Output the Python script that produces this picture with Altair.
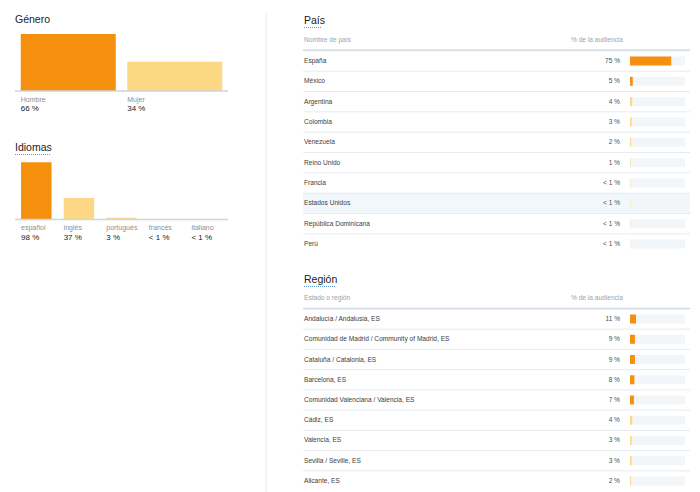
import altair as alt
import pandas as pd

# ---------------- data ----------------
panel_titles = ["Género", "Idiomas", "País", "Región"]
gender_cats = ["Hombre", "Mujer"]
gender_vals = [66, 34]
lang_cats = ["español", "inglés", "portugués", "francés", "italiano"]
lang_vals = [98, 37, 3, 0.4, 0.3]
country_header = ["Nombre de país", "% de la audiencia"]
country_names = ["España", "México", "Argentina", "Colombia", "Venezuela", "Reino Unido",
                 "Francia", "Estados Unidos", "República Dominicana", "Perú"]
country_vals = [75, 5, 4, 3, 2, 1, 0.7, 0.6, 0.5, 0.4]
region_header = ["Estado o región", "% de la audiencia"]
region_names = ["Andalucía / Andalusia, ES", "Comunidad de Madrid / Community of Madrid, ES",
                "Cataluña / Catalonia, ES", "Barcelona, ES", "Comunidad Valenciana / Valencia, ES",
                "Cádiz, ES", "Valencia, ES", "Sevilla / Seville, ES", "Alicante, ES"]
region_vals = [11, 9, 9, 8, 7, 4, 3, 3, 2]
highlighted_country = "Estados Unidos"

# ---------------- styles ----------------
ORANGE = "#f5900e"
PALE = "#fdd884"
FONT = "Liberation Sans"
LABEL_EXPR = "datum.v < 1 ? '< 1 %' : format(datum.v, 'd') + ' %'"


def title_block(title, x, y, underline_w):
    df = pd.DataFrame({"t": [title]})
    txt = alt.Chart(df).mark_text(align="left", baseline="alphabetic", fontSize=10.5,
                                  color="#202124", font=FONT).encode(
        text="t:N", x=alt.value(x), y=alt.value(y))
    layers = [txt]
    if underline_w:
        ul = alt.Chart(df).mark_rule(color="#5a9bd8", strokeDash=[1, 1], strokeWidth=1).encode(
            x=alt.value(x), x2=alt.value(x + underline_w), y=alt.value(y + 3.5))
        layers.append(ul)
    return alt.layer(*layers)


def column_chart(cats, vals, x_range, pi, po, y_range, label_y, value_y):
    df = pd.DataFrame({"c": cats, "v": vals})
    base = alt.Chart(df).transform_joinaggregate(vmax="max(v)").transform_calculate(label=LABEL_EXPR)
    xs = alt.Scale(domain=cats, range=x_range, paddingInner=pi, paddingOuter=po)
    ys = alt.Scale(range=y_range, nice=False, zero=True)
    bars = base.mark_bar().encode(
        x=alt.X("c:N", axis=None, scale=xs),
        y=alt.Y("v:Q", axis=None, scale=ys),
        color=alt.condition("datum.v == datum.vmax", alt.value(ORANGE), alt.value(PALE)),
    )
    baseline = alt.Chart(pd.DataFrame({"z": [0]})).mark_rule(color="#c9d6e3", strokeWidth=1.3).encode(
        x=alt.value(x_range[0]), x2=alt.value(x_range[1]),
        y=alt.Y("z:Q", axis=None, scale=ys))
    cat_text = base.mark_text(align="left", baseline="alphabetic", fontSize=7,
                              color="#8a9199", font=FONT).encode(
        x=alt.X("c:N", axis=None, scale=xs, bandPosition=0),
        y=alt.value(label_y), text="c:N")
    val_text = base.mark_text(align="left", baseline="alphabetic", fontSize=8,
                              color="#202124", font=FONT).encode(
        x=alt.X("c:N", axis=None, scale=xs, bandPosition=0),
        y=alt.value(value_y), text="label:N")
    return alt.layer(bars, baseline, cat_text, val_text)


def table(names, vals, header, band_range, header_y, line_y, hl=None):
    df = pd.DataFrame({"n": names, "v": vals})
    base = alt.Chart(df).transform_calculate(label=LABEL_EXPR)
    ys = alt.Scale(domain=names, range=band_range, paddingInner=0, paddingOuter=0)
    xs = alt.Scale(domain=[0, 100], range=[630, 685])
    layers = []
    if hl:
        layers.append(base.transform_filter(alt.datum.n == hl).mark_rect(color="#f2f7fc").encode(
            y=alt.Y("n:N", axis=None, scale=ys), x=alt.value(303), x2=alt.value(690)))
    layers.append(base.mark_rule(color="#e6ebf0", strokeWidth=1).encode(
        y=alt.Y("n:N", axis=None, scale=ys, bandPosition=0), x=alt.value(303), x2=alt.value(690)))
    layers.append(base.mark_bar(height=9, color="#f3f6f9").encode(
        y=alt.Y("n:N", axis=None, scale=ys),
        x=alt.X(datum=0, type="quantitative", axis=None, scale=xs),
        x2=alt.X2(datum=100)))
    layers.append(base.mark_bar(height=9).encode(
        y=alt.Y("n:N", axis=None, scale=ys),
        x=alt.X("v:Q", axis=None, scale=xs),
        color=alt.condition("datum.v >= 5", alt.value(ORANGE), alt.value(PALE))))
    layers.append(base.mark_text(align="left", baseline="middle", fontSize=6.6,
                                 color="#3c4043", font=FONT).encode(
        y=alt.Y("n:N", axis=None, scale=ys, bandPosition=0.5), x=alt.value(304), text="n:N"))
    layers.append(base.mark_text(align="right", baseline="middle", fontSize=6.6,
                                 color="#4a4f55", font=FONT).encode(
        y=alt.Y("n:N", axis=None, scale=ys, bandPosition=0.5), x=alt.value(620), text="label:N"))
    hdf = pd.DataFrame({"h": [header[0]], "p": [header[1]]})
    layers.append(alt.Chart(hdf).mark_text(align="left", baseline="alphabetic", fontSize=6.6,
                                           color="#9aa3ad", font=FONT).encode(
        text="h:N", x=alt.value(304), y=alt.value(header_y)))
    layers.append(alt.Chart(hdf).mark_text(align="right", baseline="alphabetic", fontSize=6.6,
                                           color="#9aa3ad", font=FONT).encode(
        text="p:N", x=alt.value(623), y=alt.value(header_y)))
    layers.append(alt.Chart(hdf).mark_rule(color="#d3dce6", strokeWidth=1.6).encode(
        x=alt.value(303), x2=alt.value(690), y=alt.value(line_y)))
    return alt.layer(*layers)


divider = alt.Chart(pd.DataFrame({"d": [0]})).mark_rule(color="#edf2f8", strokeWidth=1.5).encode(
    x=alt.value(266), y=alt.value(13), y2=alt.value(492))

chart = alt.layer(
    divider,
    title_block(panel_titles[0], 15, 23, 0),
    column_chart(gender_cats, gender_vals, [15, 228], 0.108, 0.054, [91, 34], 101.5, 111),
    title_block(panel_titles[1], 15, 151, 36),
    column_chart(lang_cats, lang_vals, [15, 228], 0.284, 0.142, [219.5, 162.3], 229.5, 239.5),
    title_block(panel_titles[2], 304, 24, 18),
    table(country_names, country_vals, country_header, [50.8, 254.2], 42, 50, highlighted_country),
    title_block(panel_titles[3], 304, 283, 32),
    table(region_names, region_vals, region_header, [308.9, 491.1], 300, 308.5),
).resolve_scale(
    x="independent", y="independent", color="independent"
).properties(
    width=700, height=492, autosize="none", padding=0
).configure_view(stroke=None)

chart.save("out.html", embed_options={"renderer": "svg", "actions": False})
